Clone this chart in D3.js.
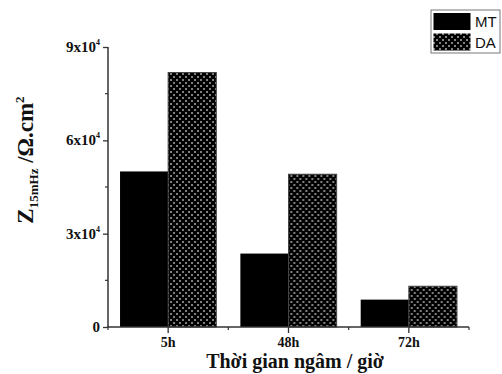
<!DOCTYPE html>
<html>
<head>
<meta charset="utf-8">
<script src="https://cdn.jsdelivr.net/npm/d3@7"></script>
<style>
body { margin:0; background:#fff; }
svg { display:block; }
.serif { font-family: "Liberation Serif", "Times New Roman", serif; font-weight:bold; }
</style>
</head>
<body>
<script>
// data
var categories = ['5h', '48h', '72h']
var series = ['MT', 'DA']
var mtValues = [50000, 23600, 8800]
var daValues = [81800, 49100, 13100]
var yTicks = [0, 30000, 60000, 90000]
var yTickLabels = ['0', '3x10', '6x10', '9x10']

var width = 502, height = 374
var margin = {left:108, right:33, top:47, bottom:47}
var innerW = width - margin.left - margin.right
var innerH = height - margin.top - margin.bottom

var svg = d3.select('body').append('svg')
    .attr('width', width)
    .attr('height', height)

// crosshatch pattern
var defs = svg.append('defs')
var pat = defs.append('pattern')
    .attr('id', 'hatch')
    .attr('patternUnits', 'userSpaceOnUse')
    .attr('width', 6)
    .attr('height', 6)
pat.append('rect').attr('width', 6).attr('height', 6).attr('fill', '#000')
pat.append('path').attr('d', 'M3,2 L4,3 L3,4 L2,3 Z').attr('fill', '#fff')
pat.append('path').attr('d', 'M0,-1 L1,0 L0,1 L-1,0 Z M6,-1 L7,0 L6,1 L5,0 Z M0,5 L1,6 L0,7 L-1,6 Z M6,5 L7,6 L6,7 L5,6 Z').attr('fill', '#fff')

var chart = svg.append('g')
    .attr('transform', 'translate(' + margin.left + ',' + margin.top + ')')

var x = d3.scaleBand()
    .domain(categories)
    .range([0, innerW])
    .paddingInner(0.2)
    .paddingOuter(0.1)

var xSub = d3.scaleBand()
    .domain(series)
    .range([0, x.bandwidth()])

var y = d3.scaleLinear()
    .domain([0, 90000])
    .range([innerH, 0])

var rows = categories.map(function(c, i){
    return {cat: c, MT: mtValues[i], DA: daValues[i]}
})

// bars
var groups = chart.selectAll('.grp')
    .data(rows)
    .enter().append('g')
    .attr('class', 'grp')
    .attr('transform', function(d){ return 'translate(' + x(d.cat) + ',0)' })

groups.append('rect')
    .attr('x', xSub('MT'))
    .attr('y', function(d){ return y(d.MT) })
    .attr('width', xSub.bandwidth())
    .attr('height', function(d){ return innerH - y(d.MT) })
    .attr('fill', '#000')

groups.append('rect')
    .attr('x', xSub('DA'))
    .attr('y', function(d){ return y(d.DA) })
    .attr('width', xSub.bandwidth())
    .attr('height', function(d){ return innerH - y(d.DA) })
    .attr('fill', 'url(#hatch)')
    .attr('stroke', '#444')
    .attr('stroke-width', 1)

// y axis
var yAxisG = chart.append('g')
yAxisG.call(d3.axisLeft(y).tickValues(yTicks).tickSize(5).tickFormat(''))
yAxisG.select('.domain').attr('d', 'M0,' + innerH + 'V0').attr('stroke', '#333').attr('stroke-width', 1.5)
yAxisG.selectAll('.tick line').attr('stroke', '#333').attr('stroke-width', 1.3)
// minor ticks
yAxisG.selectAll('.minor')
    .data([15000, 45000, 75000])
    .enter().append('line')
    .attr('x1', -3).attr('x2', 0)
    .attr('y1', function(d){ return y(d) }).attr('y2', function(d){ return y(d) })
    .attr('stroke', '#333').attr('stroke-width', 1.2)

yTicks.forEach(function(v, i){
    chart.append('text')
        .attr('class', 'serif')
        .attr('x', i === 0 ? -8 : -12)
        .attr('y', y(v) + 5)
        .attr('text-anchor', 'end')
        .attr('font-size', 15)
        .attr('fill', '#111')
        .text(yTickLabels[i])
    if (i > 0) {
        chart.append('text')
            .attr('class', 'serif')
            .attr('x', -12)
            .attr('y', y(v) - 2)
            .attr('font-size', 8)
            .attr('fill', '#111')
            .text('4')
    }
})

// x axis
var xAxisG = chart.append('g')
    .attr('transform', 'translate(0,' + innerH + ')')
xAxisG.call(d3.axisBottom(x).tickSize(6).tickFormat(''))
xAxisG.select('.domain').attr('d', 'M-1,0H' + innerW).attr('stroke', '#333').attr('stroke-width', 1.5)
xAxisG.selectAll('.tick line').attr('stroke', '#333').attr('stroke-width', 1.3)
var bounds = [0].concat(categories.map(function(c){ return x(c) + x.bandwidth() + x.step() * x.paddingInner() / 2 }))
xAxisG.selectAll('.minor')
    .data(bounds)
    .enter().append('line')
    .attr('x1', function(d){ return d }).attr('x2', function(d){ return d })
    .attr('y1', 0).attr('y2', 3)
    .attr('stroke', '#333').attr('stroke-width', 1.2)

chart.selectAll('.xlab')
    .data(categories)
    .enter().append('text')
    .attr('class', 'serif')
    .attr('x', function(d){ return x(d) + x.bandwidth() / 2 })
    .attr('y', innerH + 20)
    .attr('text-anchor', 'middle')
    .attr('font-size', 14)
    .attr('fill', '#111')
    .text(function(d){ return d })

// axis titles
svg.append('text')
    .attr('class', 'serif')
    .attr('x', 295)
    .attr('y', 368)
    .attr('text-anchor', 'middle')
    .attr('font-size', 20)
    .attr('fill', '#111')
    .text('Thời gian ngâm / giờ')

var yt = svg.append('text')
    .attr('class', 'serif')
    .attr('transform', 'translate(33,160) rotate(-90)')
    .attr('text-anchor', 'middle')
    .attr('font-size', 23)
    .attr('fill', '#111')
yt.append('tspan').text('Z')
yt.append('tspan').attr('font-size', 13).attr('dy', 5).text('15mHz')
yt.append('tspan').attr('dy', -5).text(' /Ω.cm')
yt.append('tspan').attr('font-size', 13).attr('dy', -9).text('2')

// legend
var leg = svg.append('g').attr('transform', 'translate(431,10)')
leg.append('rect')
    .attr('x', 0).attr('y', 0).attr('width', 69).attr('height', 43)
    .attr('fill', '#fff').attr('stroke', '#777').attr('stroke-width', 1)
series.forEach(function(s, i){
    leg.append('rect')
        .attr('x', 2.5).attr('y', 3 + i * 20.5)
        .attr('width', 37).attr('height', 17)
        .attr('fill', s === 'MT' ? '#000' : 'url(#hatch)')
    leg.append('text')
        .attr('x', 44).attr('y', 17 + i * 20.5)
        .attr('font-family', '"Liberation Sans", Arial, sans-serif')
        .attr('font-size', 15)
        .attr('fill', '#111')
        .text(s)
})
</script>
</body>
</html>
